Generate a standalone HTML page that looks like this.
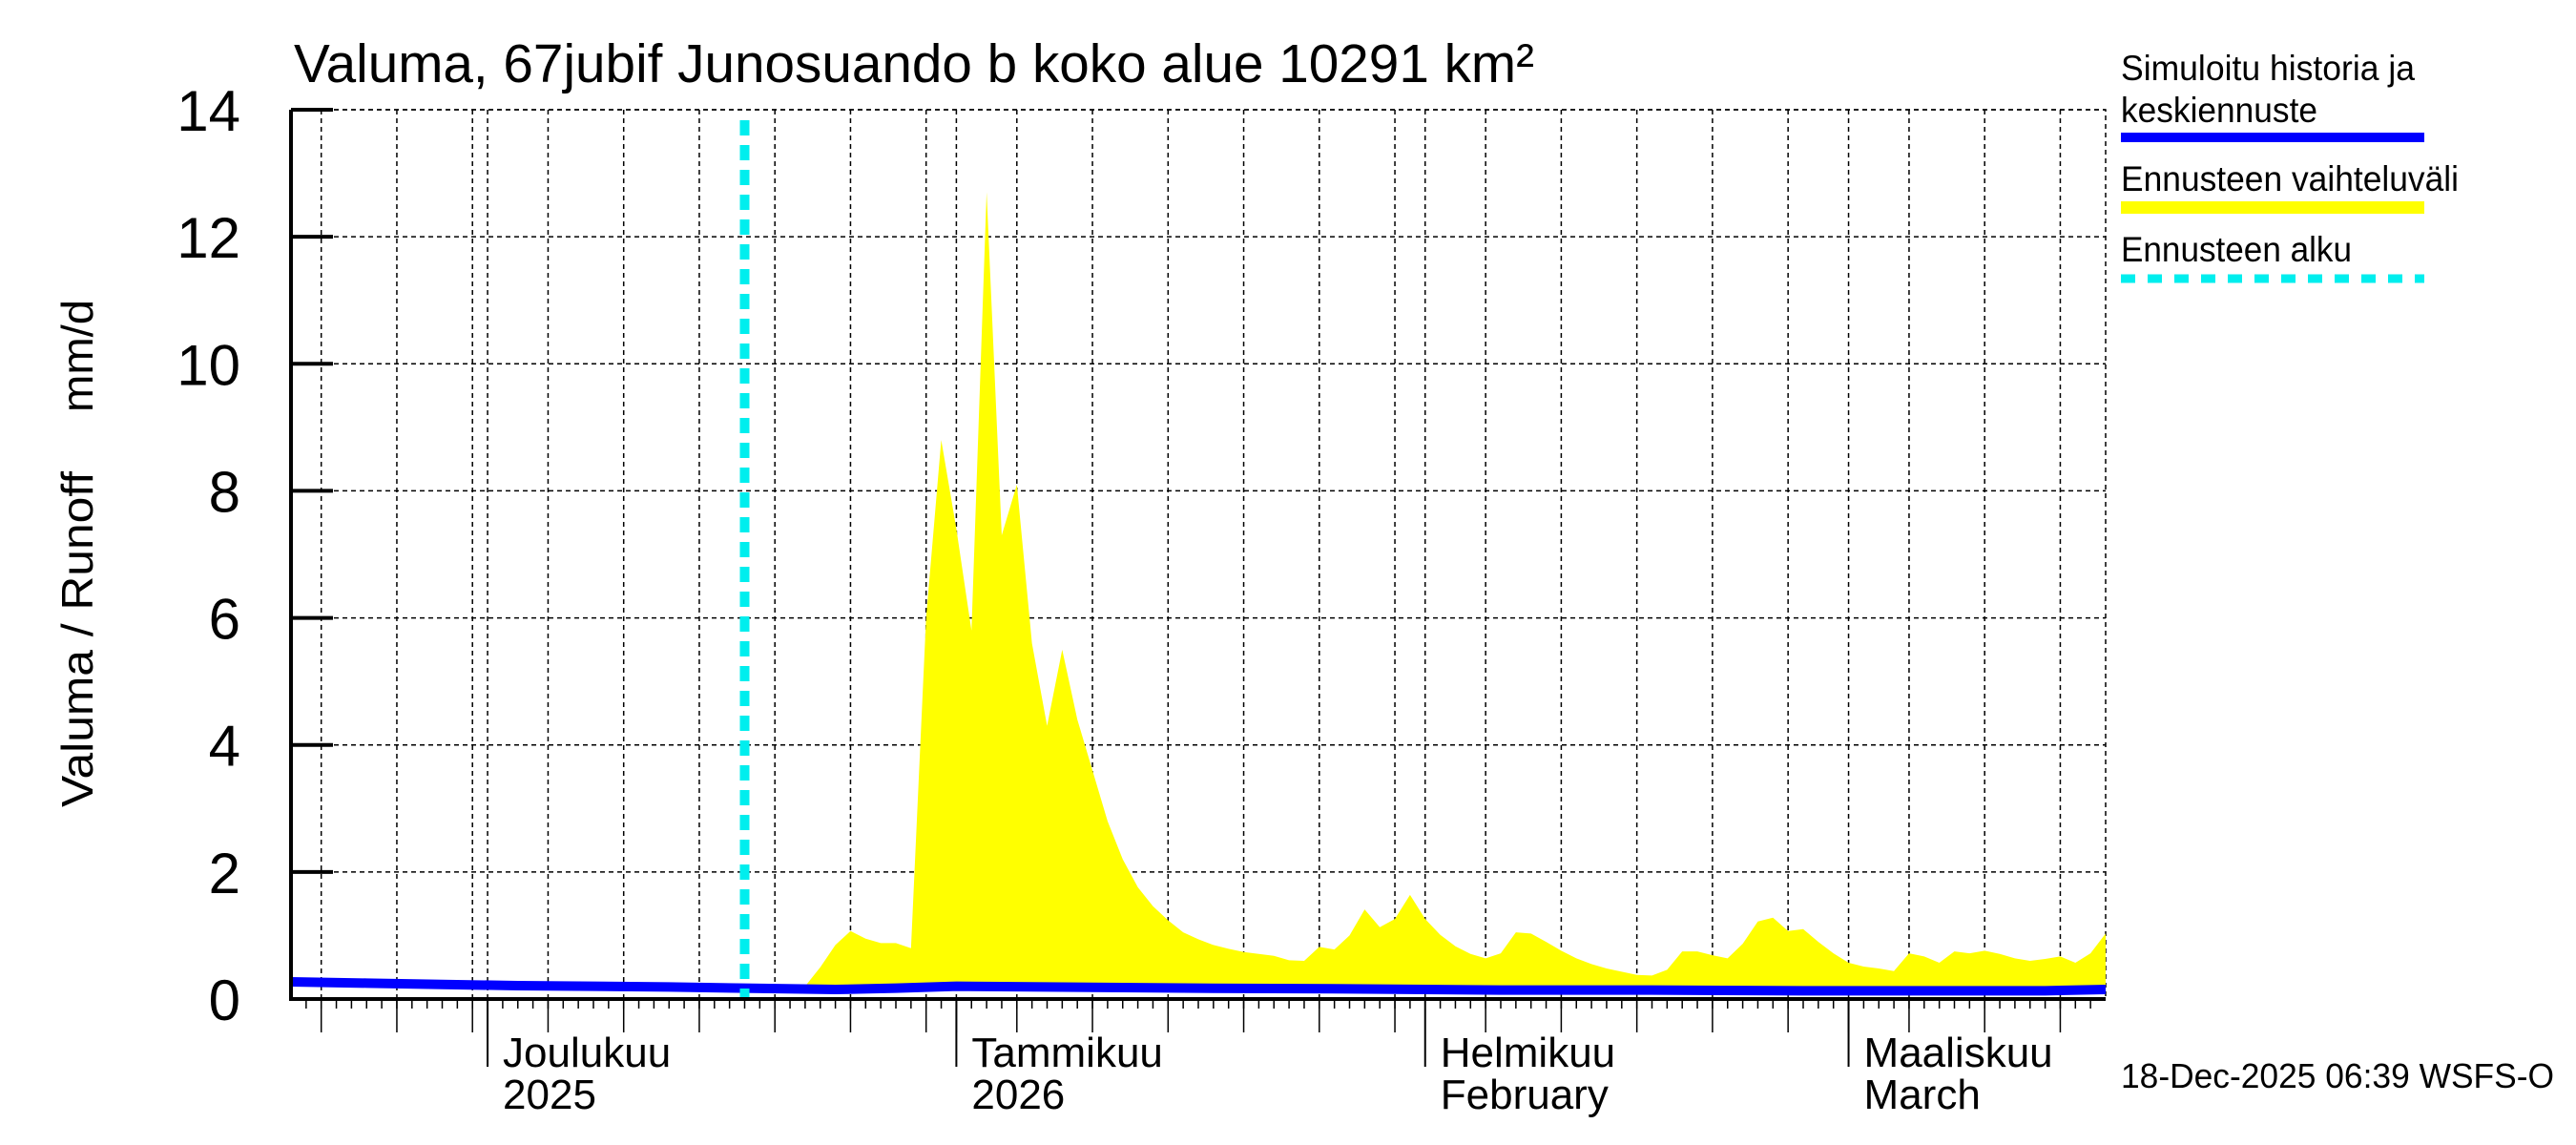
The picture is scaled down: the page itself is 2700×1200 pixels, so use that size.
<!DOCTYPE html>
<html><head><meta charset="utf-8"><style>
html,body{margin:0;padding:0;background:#fff;}
svg{display:block;font-family:"Liberation Sans",Arial,sans-serif;}
</style></head><body>
<svg id="chart" xmlns="http://www.w3.org/2000/svg" width="2700" height="1200" viewBox="0 0 2700 1200">
<rect width="2700" height="1200" fill="#fff"/>
<text x="308" y="86" font-size="57" textLength="1300" lengthAdjust="spacingAndGlyphs">Valuma, 67jubif Junosuando b koko alue 10291 km²</text>
<text transform="translate(97,670) rotate(-90)" text-anchor="middle" font-size="46" textLength="352" lengthAdjust="spacingAndGlyphs">Valuma / Runoff</text>
<text transform="translate(97,373) rotate(-90)" text-anchor="middle" font-size="46" textLength="118" lengthAdjust="spacingAndGlyphs">mm/d</text>
<g id="grid"></g>
<g id="band"></g>
<g id="series"></g>
<g id="axes"></g>
<g>
<text x="2223" y="84" font-size="37" textLength="308" lengthAdjust="spacingAndGlyphs">Simuloitu historia ja</text>
<text x="2223" y="128" font-size="37" textLength="206" lengthAdjust="spacingAndGlyphs">keskiennuste</text>
<rect x="2223" y="139" width="318" height="10" fill="#0000ff"/>
<text x="2223" y="200" font-size="37" textLength="354" lengthAdjust="spacingAndGlyphs">Ennusteen vaihteluväli</text>
<rect x="2223" y="211" width="318" height="13" fill="#ffff00"/>
<text x="2223" y="274" font-size="37" textLength="242" lengthAdjust="spacingAndGlyphs">Ennusteen alku</text>
<line x1="2223" y1="292" x2="2541" y2="292" stroke="#00eeee" stroke-width="9" stroke-dasharray="15 13"/>
</g>
<text x="2223" y="1140" font-size="36" textLength="454" lengthAdjust="spacingAndGlyphs">18-Dec-2025 06:39 WSFS-O</text>
</svg>
<script>
// data (day index 0 = 18 Nov 2025)
const yTicks = [0, 2, 4, 6, 8, 10, 12, 14];
const months = [
  {day: 13, name: "Joulukuu", sub: "2025"},
  {day: 44, name: "Tammikuu", sub: "2026"},
  {day: 75, name: "Helmikuu", sub: "February"},
  {day: 103, name: "Maaliskuu", sub: "March"}
];
const gridDays = [2,7,12,17,22,27,32,37,42,48,53,58,63,68,73,79,84,89,94,99,107,112,117];
const forecastStartDay = 30;
const blueDays = [0,5,10,15,20,25,30,36,40,44,50,55,60,70,75,80,90,100,110,116,120];
const blueVals = [0.27,0.25,0.23,0.21,0.2,0.19,0.17,0.15,0.17,0.2,0.19,0.18,0.17,0.16,0.15,0.14,0.14,0.13,0.13,0.13,0.15];
const bandStartDay = 30;
const bandUpper = [0.15,0.15,0.15,0.15,0.2,0.5,0.85,1.07,0.95,0.88,0.88,0.8,6.0,8.8,7.4,5.8,12.7,7.3,8.1,5.6,4.3,5.5,4.4,3.6,2.8,2.2,1.76,1.46,1.24,1.05,0.94,0.85,0.79,0.74,0.71,0.68,0.61,0.6,0.82,0.78,1.0,1.41,1.13,1.26,1.64,1.26,1.01,0.83,0.71,0.64,0.72,1.05,1.03,0.9,0.76,0.64,0.55,0.48,0.43,0.38,0.37,0.46,0.75,0.75,0.69,0.64,0.87,1.22,1.28,1.07,1.1,0.9,0.72,0.57,0.51,0.48,0.44,0.72,0.67,0.57,0.75,0.72,0.76,0.71,0.64,0.6,0.63,0.67,0.57,0.72,1.03];
const totalDays = 120;

const NS = "http://www.w3.org/2000/svg";
const L = 305, R = 2207, T = 115, B = 1047;
const xs = d => L + d * (R - L) / totalDays;
const ys = v => B - v * (B - T) / 14;
function mk(parent, tag, attrs) {
  const e = document.createElementNS(NS, tag);
  for (const k in attrs) e.setAttribute(k, attrs[k]);
  parent.appendChild(e);
  return e;
}
function blueAt(d) {
  for (let i = 0; i < blueDays.length - 1; i++) {
    if (d >= blueDays[i] && d <= blueDays[i+1]) {
      const t = (d - blueDays[i]) / (blueDays[i+1] - blueDays[i]);
      return blueVals[i] + t * (blueVals[i+1] - blueVals[i]);
    }
  }
  return blueVals[blueVals.length - 1];
}
const grid = document.getElementById("grid");
const axes = document.getElementById("axes");
yTicks.forEach(v => {
  if (v > 0) {
    const g = mk(grid, "line", {x1: L, x2: R, y1: ys(v), y2: ys(v), stroke: "#000", "stroke-width": 1.5, "stroke-dasharray": "5 4"});
    
    
  }
  const tk = mk(axes, "line", {x1: L, x2: L + 44, y1: ys(v), y2: ys(v), stroke: "#000", "stroke-width": 4});
  
  
  const t = mk(axes, "text", {x: 252, y: ys(v) + 22, "text-anchor": "end", "font-size": 60});
  t.textContent = v;
  
  
});
gridDays.concat(months.map(m => m.day)).forEach(d => {
  const g = mk(grid, "line", {x1: xs(d), x2: xs(d), y1: T, y2: B, stroke: "#000", "stroke-width": 1.5, "stroke-dasharray": "5 4"});
  
  
  const tk = mk(axes, "line", {x1: xs(d), x2: xs(d), y1: B, y2: 1082, stroke: "#000", "stroke-width": 1.5});
  
  
});
const bt = mk(grid, "path", {d: `M${L} ${T} H${R} V${B}`, fill: "none", stroke: "#000", "stroke-width": 1.5, "stroke-dasharray": "5 4"});


for (let d = 1; d < totalDays; d++) {
  const tk = mk(axes, "line", {x1: xs(d), x2: xs(d), y1: B, y2: B + 10, stroke: "#000", "stroke-width": 1.5});
  
  
}
months.forEach(m => {
  const tk = mk(axes, "line", {x1: xs(m.day), x2: xs(m.day), y1: B, y2: 1118, stroke: "#000", "stroke-width": 2});
  
  
  const t1 = mk(axes, "text", {x: xs(m.day) + 16, y: 1118, "font-size": 44});
  t1.textContent = m.name;
  
  
  const t2 = mk(axes, "text", {x: xs(m.day) + 16, y: 1162, "font-size": 44});
  t2.textContent = m.sub;
  
  
});
const ax = mk(axes, "path", {d: `M${L} ${T} V${B} H${R}`, fill: "none", stroke: "#000", "stroke-width": 4});


let pts = [];
bandUpper.forEach((v, i) => pts.push(`${xs(bandStartDay + i)},${ys(v)}`));
for (let i = bandUpper.length - 1; i >= 0; i--) {
  const d = bandStartDay + i;
  pts.push(`${xs(d)},${ys(blueAt(d))}`);
}
const band = mk(document.getElementById("band"), "polygon", {points: pts.join(" "), fill: "#ffff00"});


const series = document.getElementById("series");
const bl = mk(series, "polyline", {points: blueDays.map((d, i) => `${xs(d)},${ys(blueVals[i])}`).join(" "), fill: "none", stroke: "#0000ff", "stroke-width": 10});


const fs = mk(series, "line", {x1: xs(forecastStartDay), x2: xs(forecastStartDay), y1: 126, y2: B, stroke: "#00eeee", "stroke-width": 10, "stroke-dasharray": "16 10"});


</script>
</body></html>
